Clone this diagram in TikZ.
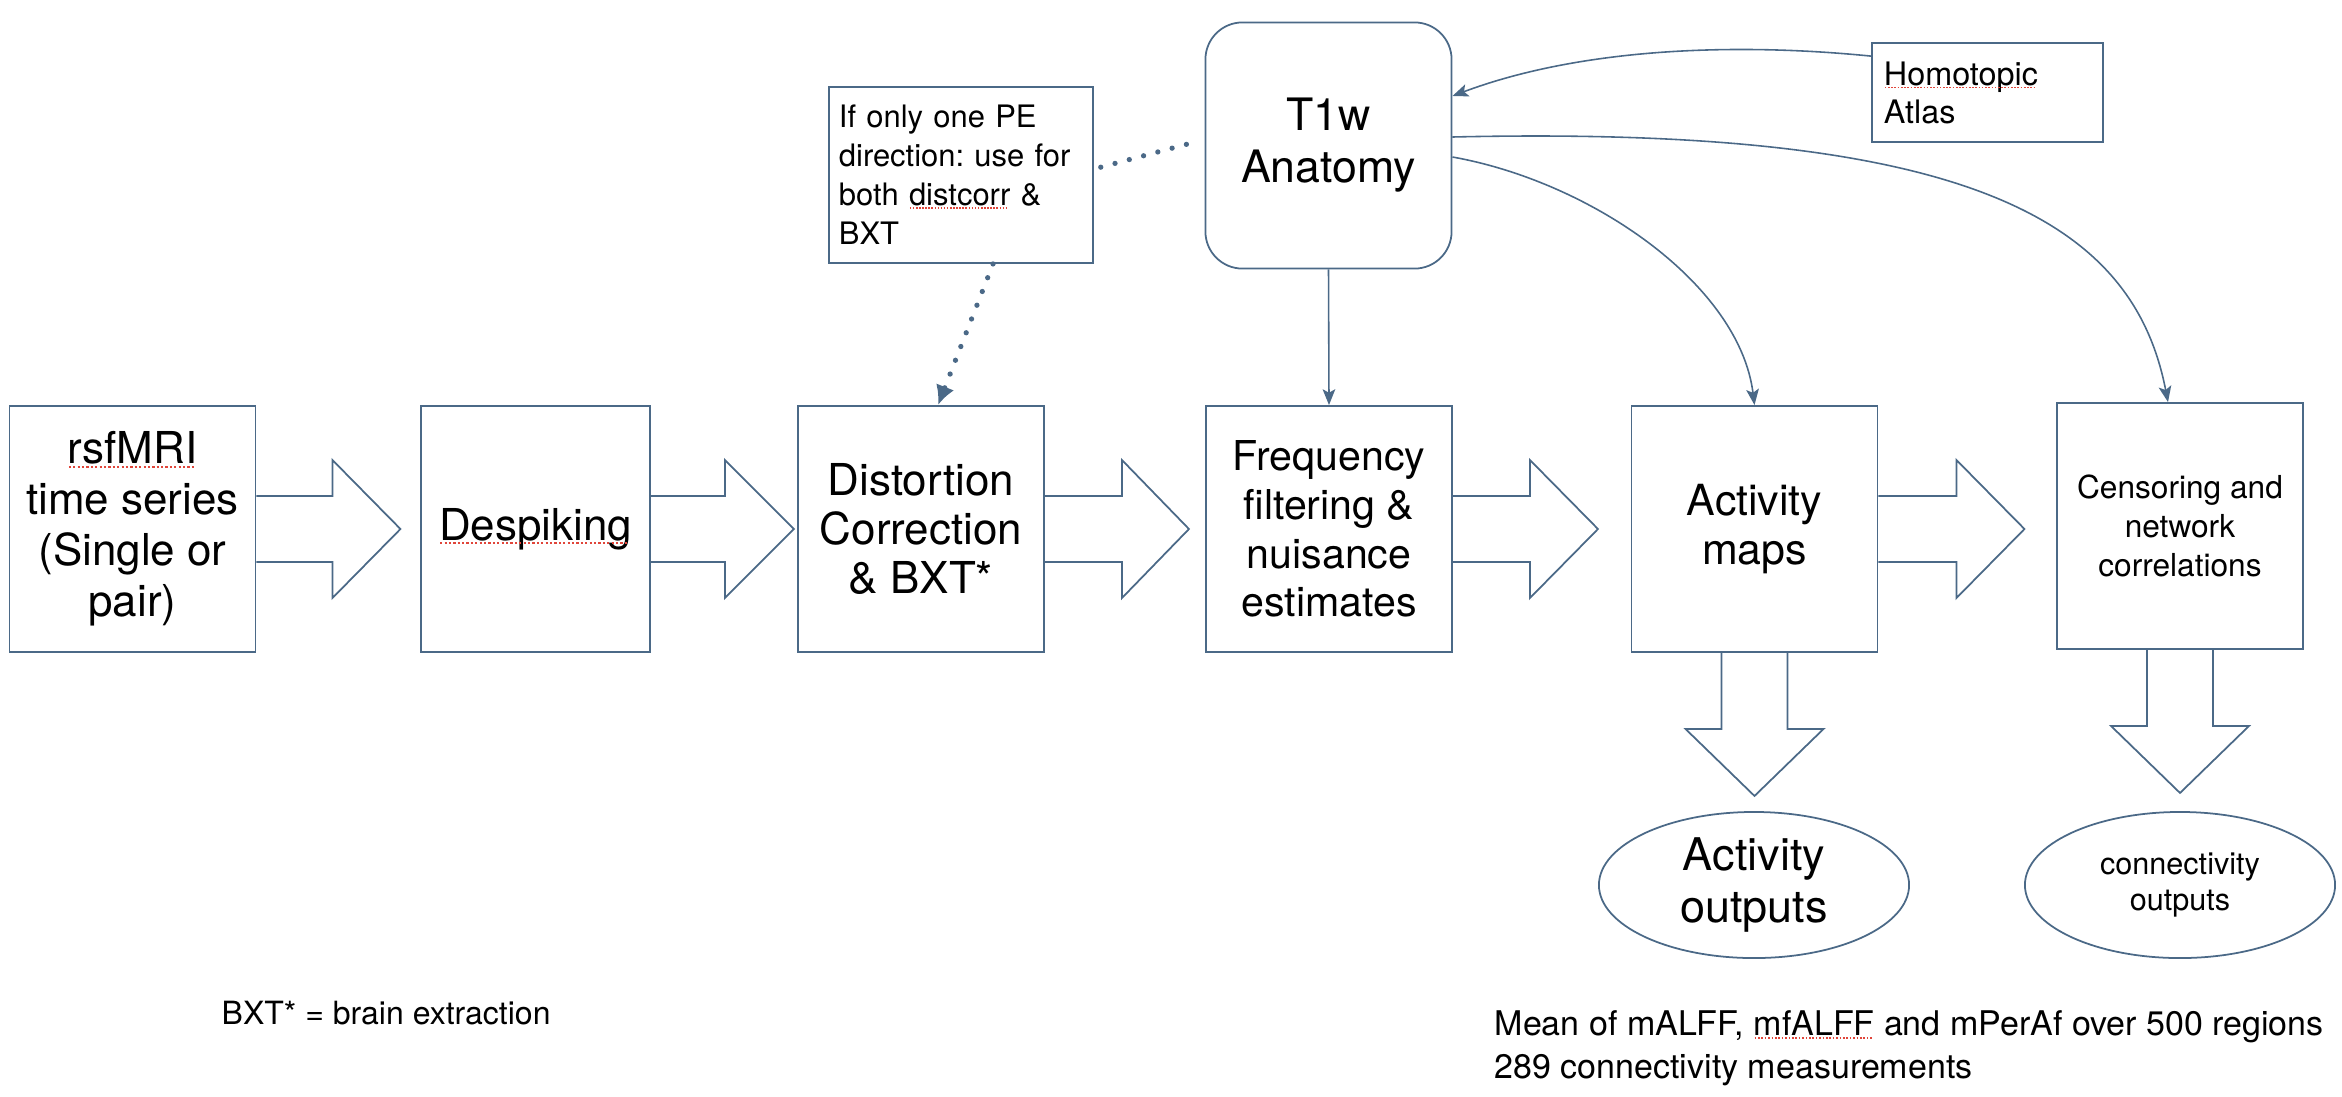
\documentclass[tikz,border=0pt]{standalone}
\usepackage{fontspec}
\setmainfont{TeX Gyre Heros}
\usepackage{xcolor}
\usetikzlibrary{arrows.meta,shapes.geometric}
\definecolor{flowblue}{HTML}{4B6987}
\definecolor{spellred}{HTML}{E0453A}
\newsavebox\spellbox
\newcommand\spellcheck[1]{\sbox\spellbox{#1}\rlap{\usebox\spellbox}\raisebox{-0.09em}{\textcolor{spellred}{\leaders\hbox to 0.1em{\hss\rule{0.05em}{0.045em}\hss}\hskip\wd\spellbox}}}
\frenchspacing

\begin{document}
\begin{tikzpicture}[x=0.01cm, y=-0.01cm,
% common options for the stage boxes:
stage/.style = {draw=flowblue, line width=0.5pt, align=center, inner sep=0,
            minimum width=2.46cm, minimum height=2.46cm},
% common options for the output ellipses:
outcome/.style = {ellipse, draw=flowblue, line width=0.5pt, align=center, inner sep=0,
            minimum width=3.1cm, minimum height=1.46cm},
% small text boxes:
memo/.style = {draw=flowblue, line width=0.5pt, align=left, inner xsep=0.1cm},
fat/.style = {draw=flowblue, line width=0.5pt, line join=miter},
link/.style = {draw=flowblue, line width=0.45pt, -{Stealth[length=4.5pt,width=3.6pt,inset=1pt]}},
hint/.style = {draw=flowblue, line width=1.5pt, line cap=round, dash pattern=on 0pt off 4.2pt}]
\useasboundingbox (0,0) rectangle (2342,1096);
\node[stage, font=\fontsize{12.5}{14.5}\selectfont] (raw) at (132.5,529) {\spellcheck{rsfMRI}\\time series\\(Single or\\pair)};
\node[stage, minimum width=2.29cm, font=\fontsize{12.5}{14.5}\selectfont] (despike) at (535.5,529) {\spellcheck{Despiking}};
\node[stage, font=\fontsize{12.5}{14}\selectfont] (distort) at (921,529) {Distortion\\Correction\\\& BXT*};
\node[stage, font=\fontsize{11.7}{13.85}\selectfont] (freq) at (1329,529) {Frequency\\filtering \&\\nuisance\\estimates};
\node[stage, font=\fontsize{12.2}{13.9}\selectfont] (actmap) at (1754.5,529) {Activity\\maps};
\node[stage, font=\fontsize{9}{11.2}\selectfont] (censor) at (2180,526) {Censoring and\\network\\correlations};
\node[stage, rounded corners=0.37cm, font=\fontsize{12.7}{14.8}\selectfont] (t1w) at (1328.5,145.5) {T1w\\Anatomy};
\node[memo, text width=2.44cm, minimum height=1.76cm, font=\fontsize{8.8}{11.1}\selectfont] (pe) at (961,175) {If only one PE\\direction: use for\\both \spellcheck{distcorr} \&\\BXT};
\node[memo, text width=2.07cm, inner xsep=0.12cm, minimum height=0.99cm, font=\fontsize{9.2}{10.8}\selectfont] (atlas) at (1987.5,92.5) {\spellcheck{Homotopic}\\Atlas};
\node[outcome, font=\fontsize{12.8}{14.8}\selectfont] (actout) at (1754,885) {Activity\\outputs};
\node[outcome, font=\fontsize{8.7}{10.3}\selectfont] (conout) at (2180,885) {connectivity\\outputs};
\node[anchor=base west, inner sep=0, font=\fontsize{9.1}{11}\selectfont] (bxt) at (221,1024) {BXT* = brain extraction};
\node[anchor=base west, inner sep=0, align=left, font=\fontsize{9.67}{12}\selectfont] (summary) at (1494,1078) {Mean of mALFF, \spellcheck{mfALFF} and mPerAf over 500 regions\\289 connectivity measurements};
% block arrows between the stages
\draw[fat] (raw.east) ++(0,-33) -- ++(76,0) -- ++(0,-36) -- ++(68,69) -- ++(-68,69) -- ++(0,-36) -- ++(-76,0);
\draw[fat] (despike.east) ++(0,-33) -- ++(74,0) -- ++(0,-36) -- ++(69,69) -- ++(-69,69) -- ++(0,-36) -- ++(-74,0);
\draw[fat] (distort.east) ++(0,-33) -- ++(77,0) -- ++(0,-36) -- ++(67,69) -- ++(-67,69) -- ++(0,-36) -- ++(-77,0);
\draw[fat] (freq.east) ++(0,-33) -- ++(77,0) -- ++(0,-36) -- ++(68,69) -- ++(-68,69) -- ++(0,-36) -- ++(-77,0);
\draw[fat] (actmap.east) ++(0,-33) -- ++(78,0) -- ++(0,-36) -- ++(68,69) -- ++(-68,69) -- ++(0,-36) -- ++(-78,0);
\draw[fat] (actmap.south) ++(-33,0) -- ++(0,76) -- ++(-36,0) -- ++(69,67) -- ++(69,-67) -- ++(-36,0) -- ++(0,-76);
\draw[fat] (censor.south) ++(-33,0) -- ++(0,76) -- ++(-36,0) -- ++(69,67) -- ++(69,-67) -- ++(-36,0) -- ++(0,-76);
% anatomy and atlas links
\draw[link] (t1w.south) -- (freq.north);
\draw[link] ([yshift=-0.14cm]atlas.north west) .. controls +(-150,-15) and +(120,-45) .. ([yshift=0.495cm]t1w.east);
\draw[link] ([yshift=0.085cm]t1w.east) .. controls +(520,-12) and +(-35,-180) .. ([xshift=-0.12cm]censor.north);
\draw[link] ([yshift=-0.115cm]t1w.east) .. controls +(140,25) and +(-15,-120) .. (actmap.north);
% dotted hints
\draw[hint, shorten <=2pt, shorten >=2pt] ([yshift=0.06cm]pe.east) -- ([yshift=0.06cm]t1w.west);
\draw[hint, -{Latex[length=5.5pt,width=5.5pt]}] ([xshift=0.32cm]pe.south) -- ([xshift=0.17cm]distort.north);
\end{tikzpicture}
\end{document}
